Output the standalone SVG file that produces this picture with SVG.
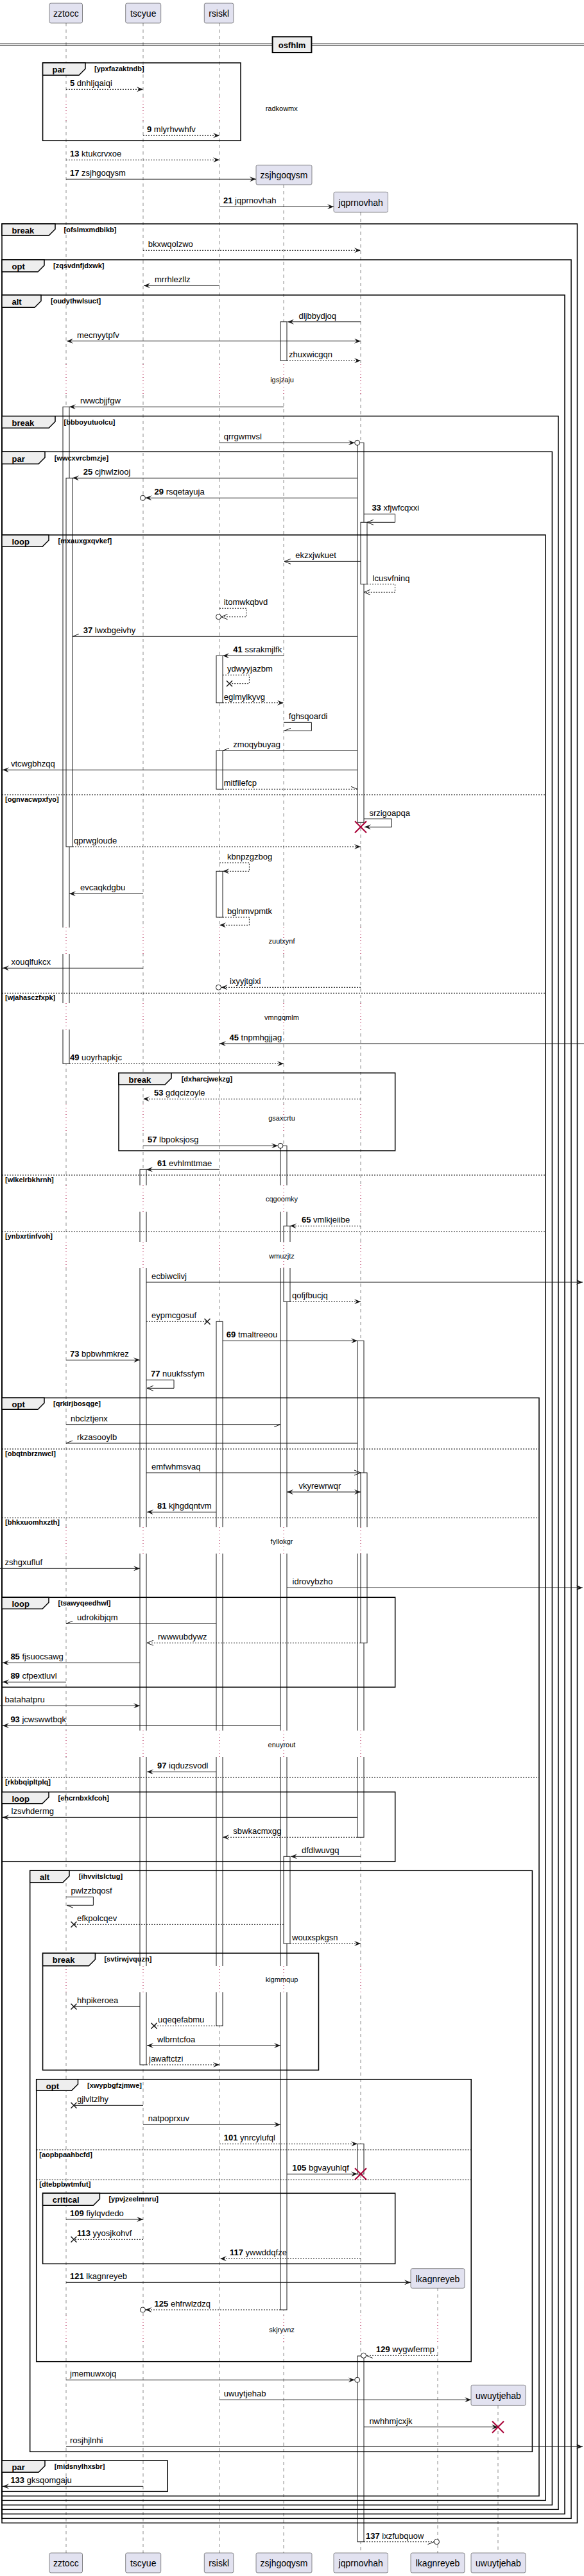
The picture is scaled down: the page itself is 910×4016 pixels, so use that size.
<svg xmlns="http://www.w3.org/2000/svg" width="910" height="4016" viewBox="0 0 910 4016">
<style>
.pb{fill:#E2E2F0;stroke:#181818;stroke-width:0.5}
.pt{font-family:"Liberation Sans",Arial,sans-serif;font-size:14px;text-anchor:middle;fill:#000}
.ll{stroke:#181818;stroke-width:0.5;stroke-dasharray:5,5;fill:none}
.dm{fill:#fff;stroke:none}
.dl{stroke:#A80036;stroke-width:1;stroke-dasharray:1,4;fill:none}
.dt{font-family:"Liberation Sans",Arial,sans-serif;font-size:11px;text-anchor:middle;fill:#000}
.act{fill:#fff;stroke:#181818;stroke-width:1}
.fr{fill:none;stroke:#000;stroke-width:1.5}
.tab{fill:#EEEEEE;stroke:#000;stroke-width:1.5}
.sep{stroke:#000;stroke-width:1;stroke-dasharray:2,2;fill:none}
.fl{font-family:"Liberation Sans",Arial,sans-serif;font-size:13px;font-weight:bold;fill:#000}
.fc{font-family:"Liberation Sans",Arial,sans-serif;font-size:11px;font-weight:bold;fill:#000}
.ml{font-family:"Liberation Sans",Arial,sans-serif;font-size:13px;fill:#000;stroke:none}
.b{font-weight:bold}
.m{stroke:#181818;stroke-width:1;fill:none}
.d{stroke-dasharray:2,2}
.ci{fill:#fff;stroke:#181818;stroke-width:1}
.x{stroke:#181818;stroke-width:1.5;fill:none}
.rx{stroke:#A80036;stroke-width:2;fill:none}
</style>
<defs>
<marker id="af" viewBox="0 0 10 8" refX="10" refY="4" markerWidth="10" markerHeight="8" markerUnits="userSpaceOnUse" orient="auto-start-reverse"><path d="M0,0 L10,4 L0,8 L4,4 Z" fill="#181818"/></marker>
<marker id="ao" viewBox="0 0 10 8" refX="10" refY="4" markerWidth="10" markerHeight="8" markerUnits="userSpaceOnUse" orient="auto" overflow="visible"><path d="M0,0 L10,4 L0,8" fill="none" stroke="#181818" stroke-width="1"/></marker>
<marker id="hu" viewBox="0 0 10 8" refX="10" refY="4" markerWidth="10" markerHeight="8" markerUnits="userSpaceOnUse" orient="auto" overflow="visible"><path d="M0,0 L10,4" fill="none" stroke="#181818" stroke-width="1"/></marker>
<marker id="hl" viewBox="0 0 10 8" refX="10" refY="4" markerWidth="10" markerHeight="8" markerUnits="userSpaceOnUse" orient="auto" overflow="visible"><path d="M0,8 L10,4" fill="none" stroke="#181818" stroke-width="1"/></marker>
</defs>
<rect x="0" y="0" width="910" height="4016" fill="#fff"/>

<g id="lifelines">
<line class="ll" x1="103" y1="36" x2="103" y2="3980"/>
<line class="ll" x1="223" y1="36" x2="223" y2="3980"/>
<line class="ll" x1="342" y1="36" x2="342" y2="3980"/>
<line class="ll" x1="442" y1="288" x2="442" y2="3980"/>
<line class="ll" x1="562" y1="331" x2="562" y2="3980"/>
<line class="ll" x1="682" y1="3567" x2="682" y2="3980"/>
<line class="ll" x1="776" y1="3750" x2="776" y2="3980"/>
</g>

<g id="activations">
<rect class="act" x="98" y="634.3" width="10" height="1024"/>
<rect class="act" x="103" y="745.3" width="10" height="574.7"/>
<rect class="act" x="437" y="501.7" width="10" height="60.6"/>
<rect class="act" x="557" y="690.3" width="10" height="592"/>
<rect class="act" x="562" y="814.3" width="10" height="96.4"/>
<rect class="act" x="337" y="1022.3" width="10" height="73.4"/>
<rect class="act" x="337" y="1170.3" width="10" height="60"/>
<rect class="act" x="337" y="1358.3" width="10" height="71.7"/>
<rect class="act" x="437" y="1786.3" width="10" height="1814.7"/>
<rect class="act" x="218" y="1823.3" width="10" height="1395.7"/>
<rect class="act" x="442" y="1911.3" width="10" height="118"/>
<rect class="act" x="337" y="2060.3" width="10" height="1098"/>
<rect class="act" x="557" y="2090.3" width="10" height="774"/>
<rect class="act" x="562" y="2296" width="10" height="265.3"/>
<rect class="act" x="442" y="2894.3" width="10" height="135.7"/>
<rect class="act" x="557" y="3342.3" width="10" height="47"/>
<rect class="act" x="557" y="3673" width="10" height="289.7"/>
</g>

<g id="delays">
<g id="delay-radkowmx">
<rect class="dm" x="96" y="152" width="20" height="36"/><rect class="dm" x="216" y="152" width="20" height="36"/><rect class="dm" x="335" y="152" width="20" height="36"/>
<path class="dl" d="M103,152V188M223,152V188M342,152V188"/>
</g>
<g id="delay-igsjzaju">
<rect class="dm" x="96" y="568" width="20" height="47"/><rect class="dm" x="216" y="568" width="20" height="47"/><rect class="dm" x="335" y="568" width="20" height="47"/><rect class="dm" x="435" y="568" width="20" height="47"/><rect class="dm" x="555" y="568" width="20" height="47"/>
<path class="dl" d="M103,568V615M223,568V615M342,568V615M442,568V615M562,568V615"/>
</g>
<g id="delay-zuutxynf">
<rect class="dm" x="96" y="1446" width="20" height="41"/><rect class="dm" x="216" y="1446" width="20" height="41"/><rect class="dm" x="335" y="1446" width="20" height="41"/><rect class="dm" x="435" y="1446" width="20" height="41"/><rect class="dm" x="555" y="1446" width="20" height="41"/>
<path class="dl" d="M103,1446V1487M223,1446V1487M342,1446V1487M442,1446V1487M562,1446V1487"/>
</g>
<g id="delay-vmngqmlm">
<rect class="dm" x="96" y="1564" width="20" height="41"/><rect class="dm" x="216" y="1564" width="20" height="41"/><rect class="dm" x="335" y="1564" width="20" height="41"/><rect class="dm" x="435" y="1564" width="20" height="41"/><rect class="dm" x="555" y="1564" width="20" height="41"/>
<path class="dl" d="M103,1564V1605M223,1564V1605M342,1564V1605M442,1564V1605M562,1564V1605"/>
</g>
<g id="delay-gsaxcrtu">
<rect class="dm" x="96" y="1722" width="20" height="42"/><rect class="dm" x="216" y="1722" width="20" height="42"/><rect class="dm" x="335" y="1722" width="20" height="42"/><rect class="dm" x="435" y="1722" width="20" height="42"/><rect class="dm" x="555" y="1722" width="20" height="42"/>
<path class="dl" d="M103,1722V1764M223,1722V1764M342,1722V1764M442,1722V1764M562,1722V1764"/>
</g>
<g id="delay-cqgoomky">
<rect class="dm" x="96" y="1848" width="20" height="41"/><rect class="dm" x="216" y="1848" width="20" height="41"/><rect class="dm" x="335" y="1848" width="20" height="41"/><rect class="dm" x="435" y="1848" width="20" height="41"/><rect class="dm" x="555" y="1848" width="20" height="41"/>
<path class="dl" d="M103,1848V1889M223,1848V1889M342,1848V1889M442,1848V1889M562,1848V1889"/>
</g>
<g id="delay-wmuzjtz">
<rect class="dm" x="96" y="1936" width="20" height="41"/><rect class="dm" x="216" y="1936" width="20" height="41"/><rect class="dm" x="335" y="1936" width="20" height="41"/><rect class="dm" x="435" y="1936" width="20" height="41"/><rect class="dm" x="555" y="1936" width="20" height="41"/>
<path class="dl" d="M103,1936V1977M223,1936V1977M342,1936V1977M442,1936V1977M562,1936V1977"/>
</g>
<g id="delay-fyllokgr">
<rect class="dm" x="96" y="2381" width="20" height="41"/><rect class="dm" x="216" y="2381" width="20" height="41"/><rect class="dm" x="335" y="2381" width="20" height="41"/><rect class="dm" x="435" y="2381" width="20" height="41"/><rect class="dm" x="555" y="2381" width="20" height="41"/>
<path class="dl" d="M103,2381V2422M223,2381V2422M342,2381V2422M442,2381V2422M562,2381V2422"/>
</g>
<g id="delay-enuyrout">
<rect class="dm" x="96" y="2698" width="20" height="41"/><rect class="dm" x="216" y="2698" width="20" height="41"/><rect class="dm" x="335" y="2698" width="20" height="41"/><rect class="dm" x="435" y="2698" width="20" height="41"/><rect class="dm" x="555" y="2698" width="20" height="41"/>
<path class="dl" d="M103,2698V2739M223,2698V2739M342,2698V2739M442,2698V2739M562,2698V2739"/>
</g>
<g id="delay-kigmmqup">
<rect class="dm" x="96" y="3065" width="20" height="41"/><rect class="dm" x="216" y="3065" width="20" height="41"/><rect class="dm" x="335" y="3065" width="20" height="41"/><rect class="dm" x="435" y="3065" width="20" height="41"/><rect class="dm" x="555" y="3065" width="20" height="41"/>
<path class="dl" d="M103,3065V3106M223,3065V3106M342,3065V3106M442,3065V3106M562,3065V3106"/>
</g>
<g id="delay-skjryvnz">
<rect class="dm" x="96" y="3610" width="20" height="42"/><rect class="dm" x="216" y="3610" width="20" height="42"/><rect class="dm" x="335" y="3610" width="20" height="42"/><rect class="dm" x="435" y="3610" width="20" height="42"/><rect class="dm" x="555" y="3610" width="20" height="42"/><rect class="dm" x="675" y="3610" width="20" height="42"/>
<path class="dl" d="M103,3610V3652M223,3610V3652M342,3610V3652M442,3610V3652M562,3610V3652M682,3610V3652"/>
</g>
</g>

<g id="divider">
<path d="M0,68.3H910M0,71.3H910" stroke="#000" stroke-width="1"/>
<rect x="424.6" y="57.3" width="60.8" height="24.7" fill="#EEEEEE" stroke="#000" stroke-width="2"/>
<text class="fl" x="455" y="75" text-anchor="middle">osfhlm</text>
</g>

<g id="frames">
<g id="f-par1"><rect class="fr" x="66.6" y="98" width="308.4" height="121.3"/><path class="tab" d="M66.6,98H133V107.3L123,117.3H66.6Z"/><text class="fl" x="81.6" y="113">par</text><text class="fc" x="147" y="111">[ypxfazaktndb]</text></g>
<g id="f-break1"><rect class="fr" x="3" y="349" width="896.5" height="3584.3"/><path class="tab" d="M3,349H86V357.3L76,367.3H3Z"/><text class="fl" x="18.5" y="364">break</text><text class="fc" x="99.5" y="362">[ofslmxmdbikb]</text></g>
<g id="f-opt1"><rect class="fr" x="3" y="405" width="887" height="3521.3"/><path class="tab" d="M3,405H69V413.7L59,423.7H3Z"/><text class="fl" x="18.5" y="420">opt</text><text class="fc" x="83" y="418">[zqsvdnfjdxwk]</text></g>
<g id="f-alt1"><rect class="fr" x="3" y="460" width="877" height="3459.3"/><path class="tab" d="M3,460H64V469.3L54,479.3H3Z"/><text class="fl" x="18.5" y="475">alt</text><text class="fc" x="79" y="473">[oudythwlsuct]</text></g>
<g id="f-break2"><rect class="fr" x="3" y="648.7" width="867" height="3263.6"/><path class="tab" d="M3,648.7H86V657.3L76,667.3H3Z"/><text class="fl" x="18.5" y="664">break</text><text class="fc" x="99.5" y="662">[bbboyutuolcu]</text></g>
<g id="f-par2"><rect class="fr" x="3" y="704.3" width="857.4" height="3201"/><path class="tab" d="M3,704.3H70V713.3L60,723.3H3Z"/><text class="fl" x="18.5" y="719.5">par</text><text class="fc" x="84.7" y="717.5">[wwcxvrcbmzje]</text></g>
<g id="f-loop1"><rect class="fr" x="3" y="834" width="847" height="3064.3"/><path class="tab" d="M3,834H76V842.3L66,852.3H3Z"/><text class="fl" x="18.5" y="849">loop</text><text class="fc" x="90.5" y="847">[mxauxgxqvkef]</text>
<path class="sep" d="M3,1239H850M3,1548.3H850M3,1832H850M3,1920.3H850"/>
<text class="fc" x="8" y="1250">[ognvacwpxfyo]</text><text class="fc" x="8" y="1559.3">[wjahasczfxpk]</text><text class="fc" x="8" y="1843">[wlkelrbkhrnh]</text><text class="fc" x="8" y="1931.3">[ynbxrtinfvoh]</text></g>
<g id="f-break3"><rect class="fr" x="185" y="1672.7" width="430.7" height="121.3"/><path class="tab" d="M185,1672.7H267V1681L257,1691H185Z"/><text class="fl" x="200.5" y="1688">break</text><text class="fc" x="282.7" y="1686">[dxharcjwekzg]</text></g>
<g id="f-opt2"><rect class="fr" x="3" y="2179.3" width="837" height="1712"/><path class="tab" d="M3,2179.3H69V2187.3L59,2197.3H3Z"/><text class="fl" x="18.5" y="2194.3">opt</text><text class="fc" x="83" y="2192.3">[qrkirjbosqge]</text>
<path class="sep" d="M3,2259H840M3,2366.3H840M3,2771H840"/>
<text class="fc" x="8" y="2270">[obqtnbrznwcl]</text><text class="fc" x="8" y="2377.3">[bhkxuomhxzth]</text><text class="fc" x="8" y="2782">[rkbbqipltplq]</text></g>
<g id="f-loop2"><rect class="fr" x="3" y="2490.3" width="612.7" height="140"/><path class="tab" d="M3,2490.3H76V2498.3L66,2508.3H3Z"/><text class="fl" x="18.5" y="2505.3">loop</text><text class="fc" x="90.5" y="2503.3">[tsawyqeedhwl]</text></g>
<g id="f-loop3"><rect class="fr" x="3" y="2793.7" width="612.7" height="108.6"/><path class="tab" d="M3,2793.7H76V2801.7L66,2811.7H3Z"/><text class="fl" x="18.5" y="2808.7">loop</text><text class="fc" x="90.5" y="2806.7">[ehcrnbxkfcoh]</text></g>
<g id="f-alt2"><rect class="fr" x="46.7" y="2916.3" width="782.7" height="906"/><path class="tab" d="M46.7,2916.3H108V2924.7L98,2934.7H46.7Z"/><text class="fl" x="62" y="2931.3">alt</text><text class="fc" x="122.7" y="2929.3">[ihvvitslctug]</text></g>
<g id="f-break4"><rect class="fr" x="66.6" y="3045" width="429.9" height="182.3"/><path class="tab" d="M66.6,3045H148.4V3054.7L138.4,3064.7H66.6Z"/><text class="fl" x="81.8" y="3060">break</text><text class="fc" x="162.4" y="3058">[svtirwjvquzn]</text></g>
<g id="f-opt3"><rect class="fr" x="56.7" y="3241.7" width="677.5" height="440"/><path class="tab" d="M56.7,3241.7H121.5V3249.3L111.5,3259.3H56.7Z"/><text class="fl" x="71.8" y="3256.7">opt</text><text class="fc" x="136" y="3254.7">[xwypbgfzjmwe]</text>
<path class="sep" d="M56.7,3351.7H734.2M56.7,3398.3H734.2"/>
<text class="fc" x="61.3" y="3362.7">[aopbpaahbcfd]</text><text class="fc" x="61.3" y="3409.3">[dtebpbwtmfut]</text></g>
<g id="f-critical"><rect class="fr" x="66.6" y="3419.3" width="549.1" height="110"/><path class="tab" d="M66.6,3419.3H155.4V3428.3L145.4,3438.3H66.6Z"/><text class="fl" x="81.8" y="3434.3">critical</text><text class="fc" x="169.4" y="3432.3">[ypvjzeelmnru]</text></g>
<g id="f-par3"><rect class="fr" x="3" y="3836" width="258" height="48.3"/><path class="tab" d="M3,3836H70V3844.3L60,3854.3H3Z"/><text class="fl" x="18.5" y="3851">par</text><text class="fc" x="84.7" y="3849">[midsnylhxsbr]</text></g>
</g>

<g id="delay-labels">
<text class="dt" x="438.7" y="173">radkowmx</text>
<text class="dt" x="439.5" y="596.3">igsjzaju</text>
<text class="dt" x="439" y="1471.3">zuutxynf</text>
<text class="dt" x="439" y="1589.7">vmngqmlm</text>
<text class="dt" x="439" y="1747.3">gsaxcrtu</text>
<text class="dt" x="439" y="1873.3">cqgoomky</text>
<text class="dt" x="439" y="1961.7">wmuzjtz</text>
<text class="dt" x="439" y="2407.3">fyllokgr</text>
<text class="dt" x="439" y="2724.3">enuyrout</text>
<text class="dt" x="439" y="3090.3">kigmmqup</text>
<text class="dt" x="439" y="3635.7">skjryvnz</text>
</g>

<g id="connectors">
<line class="m d" x1="103" y1="139.3" x2="223" y2="139.3" marker-end="url(#af)"/><text class="ml" x="109" y="134.3"><tspan class="b">5</tspan> dnhljqaiqi</text>
<line class="m d" x1="223" y1="211.3" x2="342" y2="211.3" marker-end="url(#af)"/><text class="ml" x="229" y="206.3"><tspan class="b">9</tspan> mlyrhvwhfv</text>
<line class="m d" x1="103" y1="249.3" x2="342" y2="249.3" marker-end="url(#af)"/><text class="ml" x="109" y="244.3"><tspan class="b">13</tspan> ktukcrvxoe</text>
<line class="m" x1="103" y1="279.3" x2="399" y2="279.3" marker-end="url(#af)"/><text class="ml" x="109" y="274.3"><tspan class="b">17</tspan> zsjhgoqysm</text>
<line class="m" x1="342" y1="322.3" x2="520" y2="322.3" marker-end="url(#af)"/><text class="ml" x="348" y="317.3"><tspan class="b">21</tspan> jqprnovhah</text>
<line class="m d" x1="223" y1="390.3" x2="562" y2="390.3" marker-end="url(#af)"/><text class="ml" x="230.7" y="385.3">bkxwqolzwo</text>
<line class="m" x1="342" y1="445.3" x2="224" y2="445.3" marker-end="url(#af)"/><text class="ml" x="241" y="440.3">mrrhlezllz</text>
<line class="m" x1="562" y1="501.7" x2="448" y2="501.7" marker-end="url(#af)"/><text class="ml" x="465.5" y="496.7">dljbbydjoq</text>
<line class="m" x1="104" y1="531.7" x2="562" y2="531.7" marker-start="url(#af)" marker-end="url(#af)"/><text class="ml" x="120" y="526.7">mecnyytpfv</text>
<line class="m d" x1="447" y1="562.3" x2="562" y2="562.3" marker-end="url(#af)"/><text class="ml" x="450" y="557.3">zhuxwicgqn</text>
<line class="m" x1="442" y1="634.3" x2="108" y2="634.3" marker-end="url(#af)"/><text class="ml" x="125" y="629.3">rwwcbjjfgw</text>
<line class="m" x1="342" y1="690.3" x2="552.7" y2="690.3" marker-end="url(#af)"/><circle class="ci" cx="556.7" cy="690.3" r="4"/><text class="ml" x="348.7" y="685.3">qrrgwmvsl</text>
<line class="m" x1="557" y1="745.3" x2="113" y2="745.3" marker-end="url(#af)"/><text class="ml" x="129.7" y="740.3"><tspan class="b">25</tspan> cjhwlziooj</text>
<line class="m" x1="557" y1="776.3" x2="226.5" y2="776.3" marker-end="url(#af)"/><circle class="ci" cx="222.5" cy="776.3" r="4"/><text class="ml" x="240.6" y="771.3"><tspan class="b">29</tspan> rsqetayuja</text>
<path class="m" d="M567,801.3H615.6V814.3H572" marker-end="url(#ao)"/><text class="ml" x="579.4" y="796.3"><tspan class="b">33</tspan> xfjwfcqxxi</text>
<line class="m" x1="562" y1="875.3" x2="443" y2="875.3" marker-end="url(#ao)"/><text class="ml" x="460.3" y="870.3">ekzxjwkuet</text>
<path class="m d" d="M572,910.7H615.6V923.3H567" marker-end="url(#ao)"/><text class="ml" x="580.6" y="905.7">lcusvfninq</text>
<path class="m d" d="M342,948.3H383.8V961.7H344.5" marker-end="url(#ao)"/><circle class="ci" cx="340.5" cy="961.7" r="4"/><text class="ml" x="348.7" y="943.3">itomwkqbvd</text>
<line class="m" x1="557" y1="992.3" x2="113" y2="992.3" marker-end="url(#hl)"/><text class="ml" x="129.7" y="987.3"><tspan class="b">37</tspan> lwxbgeivhy</text>
<line class="m" x1="442" y1="1022.3" x2="347" y2="1022.3" marker-end="url(#af)"/><text class="ml" x="363.3" y="1017.3"><tspan class="b">41</tspan> ssrakmjlfk</text>
<path class="m d" d="M347,1052.3H388.4V1065.7H357.5"/><path class="x" d="M353,1061.2L362,1070.2M362,1061.2L353,1070.2"/><text class="ml" x="354" y="1047.3">ydwyyjazbm</text>
<line class="m d" x1="347" y1="1095.7" x2="442" y2="1095.7" marker-end="url(#af)"/><text class="ml" x="348.7" y="1090.7">eglmylkyvg</text>
<path class="m" d="M442,1126.3H485.4V1139.3H443" marker-end="url(#hl)"/><text class="ml" x="449.8" y="1121.3">fghsqoardi</text>
<line class="m" x1="557" y1="1170.3" x2="347" y2="1170.3" marker-end="url(#hl)"/><text class="ml" x="363.3" y="1165.3">zmoqybuyag</text>
<line class="m" x1="557" y1="1200.3" x2="4" y2="1200.3" marker-end="url(#af)"/><text class="ml" x="17" y="1195.3">vtcwgbhzqq</text>
<line class="m d" x1="347" y1="1230.3" x2="557" y2="1230.3" marker-end="url(#hu)"/><text class="ml" x="348.7" y="1225.3">mitfilefcp</text>
<path class="m" d="M567,1276.7H610.4V1289.3H568" marker-end="url(#af)"/><text class="ml" x="575.4" y="1271.7">srzigoapqa</text>
<path class="rx" d="M553,1280.3L571,1298.3M571,1280.3L553,1298.3"/>
<line class="m d" x1="113" y1="1320" x2="562" y2="1320" marker-end="url(#af)"/><text class="ml" x="115" y="1315">qprwgloude</text>
<path class="m d" d="M342,1345H388.4V1358.3H347" marker-end="url(#af)"/><text class="ml" x="354" y="1340">kbnpzgzbog</text>
<line class="m" x1="223" y1="1393.3" x2="108" y2="1393.3" marker-end="url(#af)"/><text class="ml" x="125" y="1388.3">evcaqkdgbu</text>
<path class="m d" d="M347,1430H388.4V1442.3H342" marker-end="url(#af)"/><text class="ml" x="354" y="1425">bglnmvpmtk</text>
<line class="m" x1="223" y1="1509.3" x2="4" y2="1509.3" marker-end="url(#af)"/><text class="ml" x="17.5" y="1504.3">xouqlfukcx</text>
<line class="m d" x1="562" y1="1539.3" x2="344.5" y2="1539.3" marker-end="url(#af)"/><circle class="ci" cx="340.5" cy="1539.3" r="4"/><text class="ml" x="358" y="1534.3">ixyyjtgixi</text>
<line class="m" x1="910" y1="1627" x2="342" y2="1627" marker-end="url(#af)"/><text class="ml" x="357.5" y="1622"><tspan class="b">45</tspan> tnpmhgjjag</text>
<line class="m d" x1="108" y1="1658.3" x2="442" y2="1658.3" marker-end="url(#af)"/><text class="ml" x="109" y="1653.3"><tspan class="b">49</tspan> uoyrhapkjc</text>
<line class="m d" x1="562" y1="1713.3" x2="223" y2="1713.3" marker-end="url(#af)"/><text class="ml" x="240" y="1708.3"><tspan class="b">53</tspan> gdqcizoyle</text>
<line class="m" x1="223" y1="1786.3" x2="433" y2="1786.3" marker-end="url(#af)"/><circle class="ci" cx="437" cy="1786.3" r="4"/><text class="ml" x="230" y="1781.3"><tspan class="b">57</tspan> lbpoksjosg</text>
<line class="m" x1="342" y1="1823.3" x2="228" y2="1823.3" marker-end="url(#af)"/><text class="ml" x="245" y="1818.3"><tspan class="b">61</tspan> evhlmttmae</text>
<line class="m d" x1="562" y1="1911.3" x2="452" y2="1911.3" marker-end="url(#af)"/><text class="ml" x="470" y="1906.3"><tspan class="b">65</tspan> vmlkjeiibe</text>
<line class="m" x1="228" y1="1999" x2="908" y2="1999" marker-end="url(#af)"/><text class="ml" x="236" y="1994">ecbiwclivj</text>
<line class="m d" x1="452" y1="2029.3" x2="562" y2="2029.3" marker-end="url(#af)"/><text class="ml" x="455" y="2024.3">qofjfbucjq</text>
<line class="m d" x1="228" y1="2060.3" x2="323" y2="2060.3"/><path class="x" d="M318.5,2055.8L327.5,2064.8M327.5,2055.8L318.5,2064.8"/><text class="ml" x="236" y="2055.3">eypmcgosuf</text>
<line class="m" x1="347" y1="2090.3" x2="557" y2="2090.3" marker-end="url(#af)"/><text class="ml" x="352.8" y="2085.3"><tspan class="b">69</tspan> tmaltreeou</text>
<line class="m" x1="103" y1="2120.3" x2="218" y2="2120.3" marker-end="url(#af)"/><text class="ml" x="109" y="2115.3"><tspan class="b">73</tspan> bpbwhmkrez</text>
<path class="m" d="M228,2151.3H271V2164.3H229" marker-end="url(#ao)"/><text class="ml" x="235" y="2146.3"><tspan class="b">77</tspan> nuukfssfym</text>
<line class="m" x1="103" y1="2220.7" x2="437" y2="2220.7" marker-end="url(#hl)"/><text class="ml" x="110" y="2215.7">nbclztjenx</text>
<line class="m" x1="557" y1="2250" x2="103" y2="2250" marker-end="url(#hl)"/><text class="ml" x="120" y="2245">rkzasooylb</text>
<line class="m" x1="228" y1="2296" x2="562" y2="2296" marker-end="url(#ao)"/><text class="ml" x="236" y="2291">emfwhmsvaq</text>
<line class="m" x1="447" y1="2326" x2="562" y2="2326" marker-start="url(#af)" marker-end="url(#af)"/><text class="ml" x="465.5" y="2321">vkyrewrwqr</text>
<line class="m" x1="337" y1="2357.3" x2="229" y2="2357.3" marker-end="url(#af)"/><text class="ml" x="245" y="2352.3"><tspan class="b">81</tspan> kjhgdqntvm</text>
<line class="m" x1="0" y1="2445.3" x2="218" y2="2445.3" marker-end="url(#af)"/><text class="ml" x="7.6" y="2440.3">zshgxufluf</text>
<line class="m" x1="447" y1="2475.3" x2="908" y2="2475.3" marker-end="url(#af)"/><text class="ml" x="455.6" y="2470.3">idrovybzho</text>
<line class="m" x1="337" y1="2531.3" x2="103" y2="2531.3" marker-end="url(#hl)"/><text class="ml" x="120" y="2526.3">udrokibjqm</text>
<line class="m d" x1="562" y1="2561.3" x2="229" y2="2561.3" marker-end="url(#ao)"/><text class="ml" x="246" y="2556.3">rwwwubdywz</text>
<line class="m" x1="218" y1="2592.3" x2="4" y2="2592.3" marker-end="url(#af)"/><text class="ml" x="16.4" y="2587.3"><tspan class="b">85</tspan> fjsuocsawg</text>
<line class="m" x1="103" y1="2622.3" x2="4" y2="2622.3" marker-end="url(#af)"/><text class="ml" x="16.4" y="2617.3"><tspan class="b">89</tspan> cfpextluvl</text>
<line class="m" x1="0" y1="2659.3" x2="218" y2="2659.3" marker-end="url(#af)"/><text class="ml" x="7.6" y="2654.3">batahatpru</text>
<line class="m" x1="437" y1="2690.3" x2="4" y2="2690.3" marker-end="url(#af)"/><text class="ml" x="16.4" y="2685.3"><tspan class="b">93</tspan> jcwswwtbqk</text>
<line class="m" x1="337" y1="2762.3" x2="229" y2="2762.3" marker-end="url(#af)"/><text class="ml" x="245" y="2757.3"><tspan class="b">97</tspan> iqduzsvodl</text>
<line class="m" x1="557" y1="2833.3" x2="4" y2="2833.3" marker-end="url(#af)"/><text class="ml" x="17.5" y="2828.3">lzsvhdermg</text>
<line class="m d" x1="557" y1="2864.3" x2="347" y2="2864.3" marker-end="url(#af)"/><text class="ml" x="363.3" y="2859.3">sbwkacmxgg</text>
<line class="m" x1="562" y1="2894.3" x2="453" y2="2894.3" marker-end="url(#af)"/><text class="ml" x="470" y="2889.3">dfdlwuvgq</text>
<path class="m" d="M103,2957.3H145.4V2970.3H104" marker-end="url(#hu)"/><text class="ml" x="110.4" y="2952.3">pwlzzbqosf</text>
<line class="m d" x1="442" y1="3000.3" x2="115" y2="3000.3"/><path class="x" d="M110.5,2995.8L119.5,3004.8M119.5,2995.8L110.5,3004.8"/><text class="ml" x="120" y="2995.3">efkpolcqev</text>
<line class="m d" x1="452" y1="3030" x2="562" y2="3030" marker-end="url(#af)"/><text class="ml" x="455" y="3025">wouxspkgsn</text>
<line class="m" x1="218" y1="3128.3" x2="115" y2="3128.3"/><path class="x" d="M110.5,3123.8L119.5,3132.8M119.5,3123.8L110.5,3132.8"/><text class="ml" x="120" y="3123.3">hhpikeroea</text>
<line class="m d" x1="347" y1="3158.3" x2="240" y2="3158.3"/><path class="x" d="M235.5,3153.8L244.5,3162.8M244.5,3153.8L235.5,3162.8"/><text class="ml" x="246" y="3153.3">uqeqefabmu</text>
<line class="m" x1="229" y1="3189" x2="437" y2="3189" marker-start="url(#af)" marker-end="url(#af)"/><text class="ml" x="245" y="3184">wlbrntcfoa</text>
<line class="m d" x1="228" y1="3219" x2="342" y2="3219" marker-end="url(#af)"/><text class="ml" x="232" y="3214">jawaftctzi</text>
<line class="m" x1="223" y1="3282.3" x2="115" y2="3282.3"/><path class="x" d="M110.5,3277.8L119.5,3286.8M119.5,3277.8L110.5,3286.8"/><text class="ml" x="120" y="3277.3">gjlvltzlhy</text>
<line class="m" x1="223" y1="3312.3" x2="437" y2="3312.3" marker-end="url(#af)"/><text class="ml" x="230.7" y="3307.3">natpoprxuv</text>
<line class="m d" x1="342" y1="3342.3" x2="557" y2="3342.3" marker-end="url(#af)"/><text class="ml" x="348.7" y="3337.3"><tspan class="b">101</tspan> ynrcylufql</text>
<line class="m" x1="447" y1="3389.3" x2="557" y2="3389.3" marker-end="url(#af)"/><text class="ml" x="455.6" y="3384.3"><tspan class="b">105</tspan> bgvayuhlqf</text>
<path class="rx" d="M553,3380.3L571,3398.3M571,3380.3L553,3398.3"/>
<line class="m" x1="103" y1="3460" x2="223" y2="3460" marker-end="url(#af)"/><text class="ml" x="109" y="3455"><tspan class="b">109</tspan> fiylqvdedo</text>
<line class="m d" x1="223" y1="3491.3" x2="115" y2="3491.3"/><path class="x" d="M110.5,3486.8L119.5,3495.8M119.5,3486.8L110.5,3495.8"/><text class="ml" x="120" y="3486.3"><tspan class="b">113</tspan> yyosjkohvf</text>
<line class="m d" x1="562" y1="3521.3" x2="343" y2="3521.3" marker-end="url(#af)"/><text class="ml" x="358" y="3516.3"><tspan class="b">117</tspan> ywwddqfze</text>
<line class="m" x1="103" y1="3558.3" x2="640" y2="3558.3" marker-end="url(#af)"/><text class="ml" x="109" y="3553.3"><tspan class="b">121</tspan> lkagnreyeb</text>
<line class="m d" x1="437" y1="3601" x2="226.5" y2="3601" marker-end="url(#af)"/><circle class="ci" cx="222.5" cy="3601" r="4"/><text class="ml" x="240.6" y="3596"><tspan class="b">125</tspan> ehfrwlzdzq</text>
<line class="m d" x1="682" y1="3672.3" x2="570.6" y2="3672.3" marker-end="url(#hu)"/><circle class="ci" cx="566.6" cy="3672.3" r="4"/><text class="ml" x="586" y="3667.3"><tspan class="b">129</tspan> wygwfermp</text>
<line class="m" x1="103" y1="3710.3" x2="552.7" y2="3710.3" marker-end="url(#af)"/><circle class="ci" cx="556.7" cy="3710.3" r="4"/><text class="ml" x="109" y="3705.3">jmemuwxojq</text>
<line class="m" x1="342" y1="3741.3" x2="734" y2="3741.3" marker-end="url(#af)"/><text class="ml" x="348.7" y="3736.3">uwuytjehab</text>
<line class="m" x1="567" y1="3783.7" x2="776" y2="3783.7" marker-end="url(#af)"/><text class="ml" x="575.4" y="3778.7">nwhhmjcxjk</text>
<path class="rx" d="M767,3774.7L785,3792.7M785,3774.7L767,3792.7"/>
<line class="m" x1="103" y1="3814.3" x2="908" y2="3814.3" marker-end="url(#af)"/><text class="ml" x="109" y="3809.3">rosjhjlnhi</text>
<line class="m" x1="223" y1="3876.3" x2="4" y2="3876.3" marker-end="url(#af)"/><text class="ml" x="16.4" y="3871.3"><tspan class="b">133</tspan> gksqomgaju</text>
<line class="m d" x1="567" y1="3962.7" x2="676.5" y2="3962.7" marker-end="url(#hl)"/><circle class="ci" cx="680.5" cy="3962.7" r="4"/><text class="ml" x="570" y="3957.7"><tspan class="b">137</tspan> ixzfubquow</text>
</g>

<g id="p-zztocc"><rect class="pb" x="77" y="5" width="51.5" height="31" rx="2.5"/><text class="pt" x="102.8" y="26">zztocc</text><rect class="pb" x="77" y="3980" width="51.5" height="31" rx="2.5"/><text class="pt" x="102.8" y="4001">zztocc</text></g>
<g id="p-tscyue"><rect class="pb" x="195.7" y="5" width="55" height="31" rx="2.5"/><text class="pt" x="223.2" y="26">tscyue</text><rect class="pb" x="195.7" y="3980" width="55" height="31" rx="2.5"/><text class="pt" x="223.2" y="4001">tscyue</text></g>
<g id="p-rsiskl"><rect class="pb" x="318.3" y="5" width="45.6" height="31" rx="2.5"/><text class="pt" x="341.1" y="26">rsiskl</text><rect class="pb" x="318.3" y="3980" width="45.6" height="31" rx="2.5"/><text class="pt" x="341.1" y="4001">rsiskl</text></g>
<g id="p-zsjhgoqysm"><rect class="pb" x="399" y="257.3" width="87" height="30.7" rx="2.5"/><text class="pt" x="442.5" y="278">zsjhgoqysm</text><rect class="pb" x="399" y="3980" width="87" height="31" rx="2.5"/><text class="pt" x="442.5" y="4001">zsjhgoqysm</text></g>
<g id="p-jqprnovhah"><rect class="pb" x="520" y="299.3" width="84.5" height="31.7" rx="2.5"/><text class="pt" x="562.2" y="320.5">jqprnovhah</text><rect class="pb" x="520" y="3980" width="84.5" height="31" rx="2.5"/><text class="pt" x="562.2" y="4001">jqprnovhah</text></g>
<g id="p-lkagnreyeb"><rect class="pb" x="640" y="3536.7" width="84" height="30.6" rx="2.5"/><text class="pt" x="682" y="3557.5">lkagnreyeb</text><rect class="pb" x="640" y="3980" width="84" height="31" rx="2.5"/><text class="pt" x="682" y="4001">lkagnreyeb</text></g>
<g id="p-uwuytjehab"><rect class="pb" x="734" y="3718.3" width="85" height="32" rx="2.5"/><text class="pt" x="776.5" y="3739.5">uwuytjehab</text><rect class="pb" x="734" y="3980" width="85" height="31" rx="2.5"/><text class="pt" x="776.5" y="4001">uwuytjehab</text></g>
</svg>
